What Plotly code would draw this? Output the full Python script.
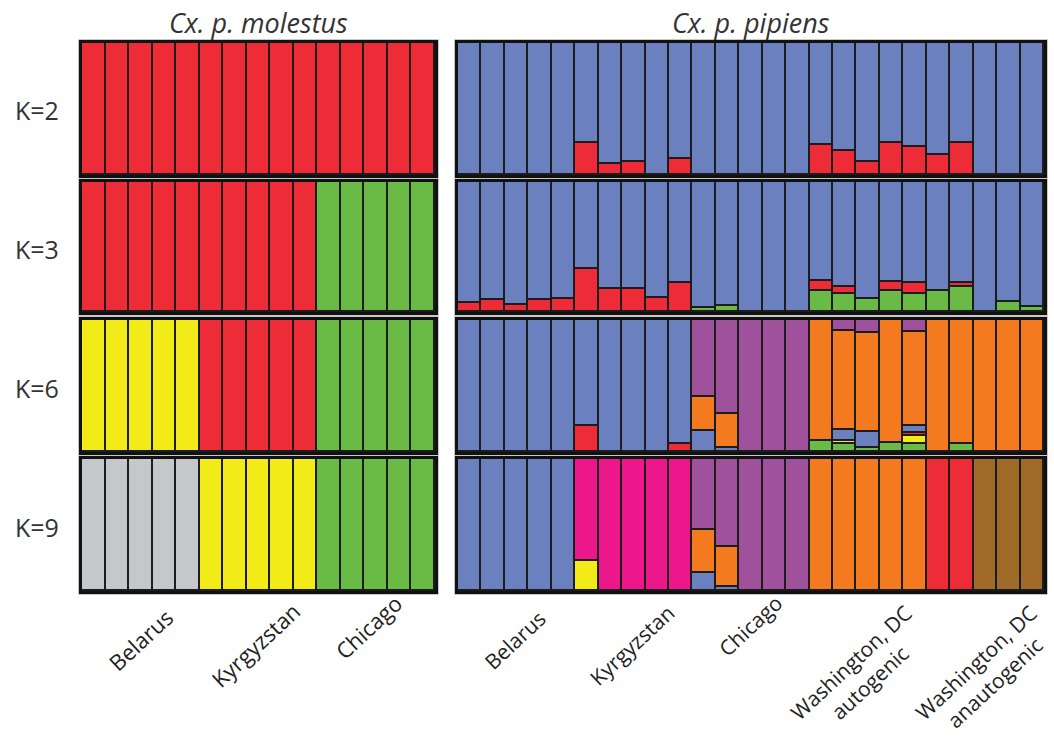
import plotly.graph_objects as go
from plotly.subplots import make_subplots

W, H = 1054, 751

# ---------------- data ----------------
rows_k = ["K=2", "K=3", "K=6", "K=9"]
groups_left = ["Belarus", "Kyrgyzstan", "Chicago"]
groups_right = ["Belarus", "Kyrgyzstan", "Chicago", "Washington, DC<br>autogenic", "Washington, DC<br>anautogenic"]

# Cx. p. molestus (15 individuals)
mol_k2_red    = [1]*15
mol_k3_red    = [1]*10 + [0]*5
mol_k3_green  = [0]*10 + [1]*5
mol_k6_yellow = [1]*5 + [0]*10
mol_k6_red    = [0]*5 + [1]*5 + [0]*5
mol_k6_green  = [0]*10 + [1]*5
mol_k9_gray   = [1]*5 + [0]*10
mol_k9_yellow = [0]*5 + [1]*5 + [0]*5
mol_k9_green  = [0]*10 + [1]*5

# Cx. p. pipiens (25 individuals)
pip_k2_red  = [0, 0, 0, 0, 0, 0.24, 0.08, 0.095, 0, 0.125, 0, 0, 0, 0, 0,
               0.23, 0.18, 0.10, 0.24, 0.21, 0.15, 0.24, 0, 0, 0]
pip_k2_blue = [1, 1, 1, 1, 1, 0.76, 0.92, 0.905, 1, 0.875, 1, 1, 1, 1, 1,
               0.77, 0.82, 0.90, 0.76, 0.79, 0.85, 0.76, 1, 1, 1]

pip_k3_green = [0, 0, 0, 0, 0, 0, 0, 0, 0, 0, 0.03, 0.05, 0, 0, 0,
                0.16, 0.14, 0.10, 0.16, 0.14, 0.16, 0.19, 0, 0.08, 0.04]
pip_k3_red   = [0.066, 0.09, 0.056, 0.09, 0.10, 0.33, 0.18, 0.18, 0.11, 0.22, 0, 0, 0, 0, 0,
                0.08, 0.055, 0, 0.07, 0.08, 0, 0.035, 0, 0, 0]
pip_k3_blue  = [0.934, 0.91, 0.944, 0.91, 0.90, 0.67, 0.82, 0.82, 0.89, 0.78, 0.97, 0.95, 1, 1, 1,
                0.76, 0.805, 0.90, 0.77, 0.78, 0.84, 0.775, 1, 0.92, 0.96]

pip_k6_green  = [0]*15 + [0.08, 0.06, 0.03, 0.07, 0.06, 0, 0.06, 0, 0, 0]
pip_k6_yellow = [0]*15 + [0, 0.02, 0, 0, 0.06, 0, 0, 0, 0, 0]
pip_k6_red    = [0, 0, 0, 0, 0, 0.20, 0, 0, 0, 0.06, 0, 0, 0, 0, 0,
                 0, 0, 0, 0, 0.025, 0, 0, 0, 0, 0]
pip_k6_blue   = [1, 1, 1, 1, 1, 0.80, 1, 1, 1, 0.94, 0.16, 0.03, 0, 0, 0,
                 0, 0.085, 0.125, 0, 0.055, 0, 0, 0, 0, 0]
pip_k6_orange = [0]*10 + [0.26, 0.26, 0, 0, 0,
                          0.92, 0.755, 0.745, 0.93, 0.71, 1, 0.94, 1, 1, 1]
pip_k6_purple = [0]*10 + [0.58, 0.71, 1, 1, 1,
                          0, 0.08, 0.10, 0, 0.09, 0, 0, 0, 0, 0]

pip_k9_yellow = [0, 0, 0, 0, 0, 0.23] + [0]*19
pip_k9_blue   = [1, 1, 1, 1, 1] + [0]*5 + [0.14, 0.03] + [0]*13
pip_k9_orange = [0]*10 + [0.32, 0.30, 0, 0, 0, 1, 1, 1, 1, 1, 0, 0, 0, 0, 0]
pip_k9_purple = [0]*10 + [0.54, 0.67, 1, 1, 1] + [0]*10
pip_k9_pink   = [0]*5 + [0.77, 1, 1, 1, 1] + [0]*15
pip_k9_red    = [0]*20 + [1, 1, 0, 0, 0]
pip_k9_brown  = [0]*22 + [1, 1, 1]

# ---------------- style ----------------
C = dict(red="#EE2C38", blue="#6B80BE", green="#69BB45", yellow="#F2EB18",
         purple="#A0519C", orange="#F47A20", pink="#EC178B", brown="#A06B29",
         gray="#C6C7C9")

panels = {
    (1, 1): [(mol_k2_red, "red")],
    (2, 1): [(mol_k3_red, "red"), (mol_k3_green, "green")],
    (3, 1): [(mol_k6_yellow, "yellow"), (mol_k6_red, "red"), (mol_k6_green, "green")],
    (4, 1): [(mol_k9_gray, "gray"), (mol_k9_yellow, "yellow"), (mol_k9_green, "green")],
    (1, 2): [(pip_k2_red, "red"), (pip_k2_blue, "blue")],
    (2, 2): [(pip_k3_green, "green"), (pip_k3_red, "red"), (pip_k3_blue, "blue")],
    (3, 2): [(pip_k6_green, "green"), (pip_k6_yellow, "yellow"), (pip_k6_red, "red"),
             (pip_k6_blue, "blue"), (pip_k6_orange, "orange"), (pip_k6_purple, "purple")],
    (4, 2): [(pip_k9_yellow, "yellow"), (pip_k9_blue, "blue"), (pip_k9_orange, "orange"),
             (pip_k9_purple, "purple"), (pip_k9_pink, "pink"), (pip_k9_red, "red"),
             (pip_k9_brown, "brown")],
}

fig = make_subplots(rows=4, cols=2)

for (r, c), comps in panels.items():
    for vals, col in comps:
        n = len(vals)
        fig.add_trace(go.Bar(
            x=list(range(n)),
            y=[v if v > 0 else None for v in vals],
            marker=dict(color=C[col], line=dict(color="#1c1c1c", width=1.6)),
            showlegend=False, hoverinfo="skip", width=1.0,
        ), row=r, col=c)

def px_x(p):
    return p / W

def px_y(p):
    return 1 - p / H

xdom = {1: [px_x(82), px_x(435)], 2: [px_x(458), px_x(1044)]}
ytops = [43, 182, 320, 459]
ybots = [175, 312, 452, 591]
ncount = {1: 15, 2: 25}

shapes = []
for r in range(1, 5):
    for c in (1, 2):
        idx = (r - 1) * 2 + c
        xa = "xaxis" if idx == 1 else f"xaxis{idx}"
        ya = "yaxis" if idx == 1 else f"yaxis{idx}"
        fig.layout[xa].update(domain=xdom[c], range=[-0.5, ncount[c] - 0.5],
                              showline=True, mirror=True, linewidth=3, linecolor="#111",
                              showticklabels=False, ticks="", showgrid=False, zeroline=False,
                              fixedrange=True)
        fig.layout[ya].update(domain=[px_y(ybots[r - 1]), px_y(ytops[r - 1])], range=[0, 1],
                              showline=True, mirror=True, linewidth=3, linecolor="#111",
                              showticklabels=False, ticks="", showgrid=False, zeroline=False,
                              fixedrange=True)
        # faint outer frame
        shapes.append(dict(type="rect", xref="paper", yref="paper",
                           x0=xdom[c][0] - 3.5 / W, x1=xdom[c][1] + 3.5 / W,
                           y0=px_y(ybots[r - 1] + 3.5), y1=px_y(ytops[r - 1] - 3.5),
                           line=dict(color="#c8c8c8", width=1), layer="below"))

FONT = "'Open Sans', Lato, sans-serif"
TXT = "#333333"
ann = []

def add_text(text, xc, yc, size, color=TXT, angle=0):
    ann.append(dict(text=text, x=px_x(xc), y=px_y(yc), xref="paper", yref="paper",
                    xanchor="center", yanchor="middle", showarrow=False,
                    textangle=angle, align="center",
                    font=dict(family=FONT, size=size, color=color)))

# column titles
add_text("<i>Cx. p. molestus</i>", 258, 22, 27)
add_text("<i>Cx. p. pipiens</i>", 751, 22, 27)
# K labels
for lab, yc in zip(rows_k, [110, 249, 388, 527]):
    add_text(lab, 37, yc, 25)
# group labels
left_pos = [(140, 640), (255, 645), (368, 627)]
right_pos = [(515, 640), (632, 645), (750, 626), (860, 672), (985, 672)]
for lab, (xc, yc) in zip(groups_left, left_pos):
    add_text(lab, xc, yc, 22, "#222", -43)
for lab, (xc, yc) in zip(groups_right, right_pos):
    add_text(lab, xc, yc, 21, "#222", -43)

fig.update_layout(
    width=W, height=H, margin=dict(l=0, r=0, t=0, b=0),
    barmode="stack", bargap=0, plot_bgcolor="white", paper_bgcolor="white",
    annotations=ann, shapes=shapes,
)

fig.write_html("out.html")
